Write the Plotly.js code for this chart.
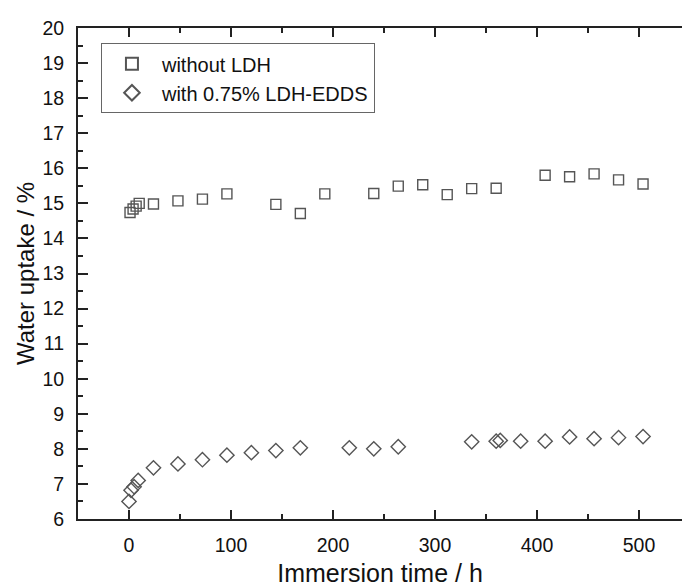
<!DOCTYPE html>
<html>
<head>
<meta charset="utf-8">
<script src="https://cdn.plot.ly/plotly-3.0.1.min.js"></script>
<style>html,body{margin:0;padding:0;background:#fff;}#chart{width:682px;height:587px;}</style>
</head>
<body>
<div id="chart"></div>
<script>
// Series 1: without LDH
var timeNoLDH = [1, 4, 7, 10, 24, 48, 72, 96, 144, 168, 192, 240, 264, 288, 312, 336, 360, 408, 432, 456, 480, 504];
var uptakeNoLDH = [14.74, 14.84, 14.92, 15.0, 14.98, 15.07, 15.12, 15.27, 14.97, 14.71, 15.27, 15.28, 15.49, 15.53, 15.25, 15.42, 15.43, 15.80, 15.76, 15.84, 15.67, 15.55];
// Series 2: with 0.75% LDH-EDDS
var timeLDH = [0, 2, 5, 9, 24, 48, 72, 96, 120, 144, 168, 216, 240, 264, 336, 360, 364, 384, 408, 432, 456, 480, 504];
var uptakeLDH = [6.50, 6.82, 6.92, 7.10, 7.46, 7.57, 7.69, 7.82, 7.89, 7.95, 8.03, 8.03, 8.00, 8.06, 8.20, 8.22, 8.24, 8.22, 8.22, 8.34, 8.29, 8.32, 8.35];
var seriesNames = ["without LDH", "with 0.75% LDH-EDDS"];

var markerColor = "#555555";
var axisColor = "#222222";
var fontFamily = "Liberation Sans, Arial, sans-serif";

var traces = [
  {
    x: timeNoLDH, y: uptakeNoLDH, name: seriesNames[0], type: "scatter", mode: "markers",
    marker: {symbol: "square-open", size: 10, color: markerColor, line: {width: 1.4, color: markerColor}}
  },
  {
    x: timeLDH, y: uptakeLDH, name: seriesNames[1], type: "scatter", mode: "markers",
    marker: {symbol: "diamond-open", size: 11, color: markerColor, line: {width: 1.4, color: markerColor}}
  }
];

var layout = {
  width: 682, height: 587,
  margin: {l: 78, r: 0, t: 28, b: 68, pad: 0},
  paper_bgcolor: "#fff", plot_bgcolor: "#fff",
  font: {family: fontFamily, color: "#111", size: 19},
  showlegend: true,
  legend: {
    x: 0.038, y: 0.969, xanchor: "left", yanchor: "top",
    bordercolor: "#666", borderwidth: 1, bgcolor: "rgba(255,255,255,0)",
    font: {size: 20, family: fontFamily, color: "#111"},
    itemsizing: "constant", tracegroupgap: 0, itemwidth: 50
  },
  xaxis: {
    range: [-50, 542.2], tickmode: "linear", tick0: 0, dtick: 100,
    showgrid: false, zeroline: false,
    showline: true, linewidth: 2, linecolor: axisColor, mirror: "ticks",
    ticks: "inside", ticklen: 9, tickwidth: 2, tickcolor: axisColor,
    ticklabelstandoff: 8,
    minor: {dtick: 50, ticks: "inside", ticklen: 5, tickwidth: 2, tickcolor: axisColor, showgrid: false},
    tickfont: {size: 19.5},
    title: {text: "Immersion time / h", font: {size: 25}, standoff: 10}
  },
  yaxis: {
    range: [6, 20], tickmode: "linear", tick0: 6, dtick: 1,
    showgrid: false, zeroline: false,
    showline: true, linewidth: 2, linecolor: axisColor, mirror: false,
    ticks: "inside", ticklen: 10, tickwidth: 2, tickcolor: axisColor,
    ticklabelstandoff: 8,
    minor: {dtick: 0.5, ticks: "inside", ticklen: 5, tickwidth: 2, tickcolor: axisColor, showgrid: false},
    tickfont: {size: 19.5},
    title: {text: "Water uptake / %", font: {size: 24}, standoff: 1}
  }
};

Plotly.newPlot("chart", traces, layout, {displayModeBar: false, staticPlot: true});
</script>
</body>
</html>
